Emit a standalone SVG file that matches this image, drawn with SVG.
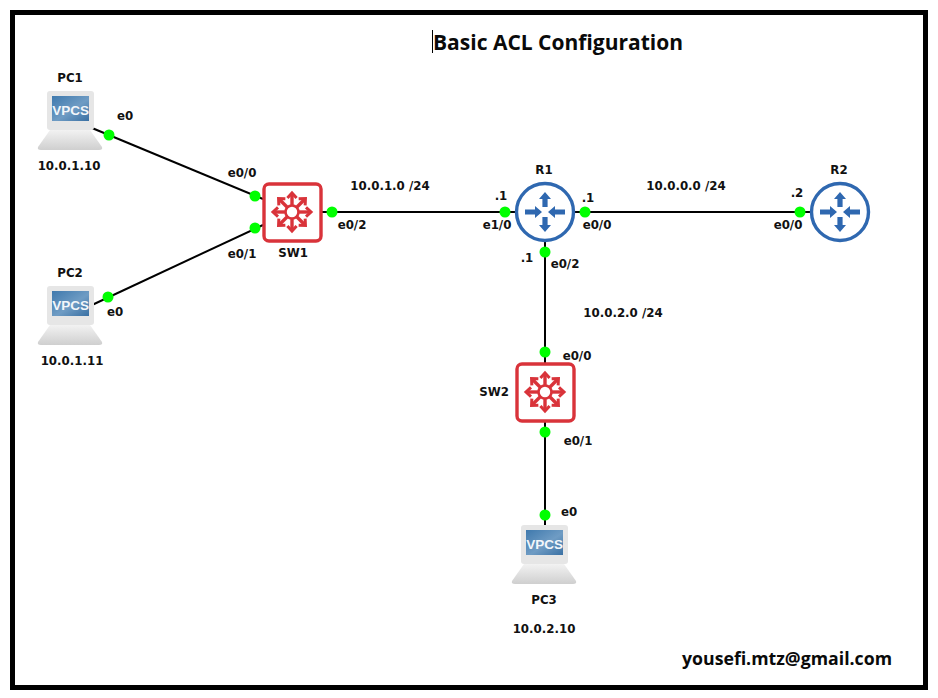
<svg xmlns="http://www.w3.org/2000/svg" xmlns:xlink="http://www.w3.org/1999/xlink" width="938" height="698" viewBox="0 0 938 698">
<style>
.l{font-family:"DejaVu Sans","Liberation Sans",sans-serif;font-weight:700;font-size:11.8px;fill:#111}
.t{font-family:"Open Sans","Noto Sans",sans-serif;font-weight:700;fill:#0a0a0a}
.c{stroke:#000;stroke-width:2;fill:none}
.d{fill:#0f0}
</style>
<defs>
<linearGradient id="scr" x1="0" y1="0" x2="1" y2="1"><stop offset="0" stop-color="#3f79ad"/><stop offset=".55" stop-color="#6f9cc4"/><stop offset="1" stop-color="#3a70a3"/></linearGradient>
<linearGradient id="bs" x1="0" y1="0" x2="0" y2="1"><stop offset="0" stop-color="#f2f2f2"/><stop offset="1" stop-color="#cfcfcf"/></linearGradient>
<g id="pc">
<path d="M-21 0H19L31 17Q32 20 28 20H-30Q-34 20 -33 17Z" fill="url(#bs)"/>
<rect x="-24" y="-39" width="47" height="39" rx="3" fill="#e6e6e6"/>
<rect x="-19" y="-34" width="37" height="25" fill="url(#scr)"/>
<text x="-0.500" y="-15.500" text-anchor="middle" font-family="'Liberation Sans',sans-serif" font-weight="700" font-size="13.500" fill="#f2f6fa">VPCS</text>
</g>
<g id="arr">
<path d="M0 -6V-18" stroke-width="3.400"/>
<path d="M-4.600 -14L0 -19L4.600 -14" stroke-width="3"/>
</g>
<g id="swi">
<rect x="-28" y="-28" width="57" height="57" rx="5" fill="#fff" stroke="#d9333a" stroke-width="3.400"/>
<g stroke="#d9333a" fill="none" stroke-width="2.600">
<circle r="6.500"/>
<use xlink:href="#arr" transform="rotate(0)"/>
<use xlink:href="#arr" transform="rotate(45)"/>
<use xlink:href="#arr" transform="rotate(90)"/>
<use xlink:href="#arr" transform="rotate(135)"/>
<use xlink:href="#arr" transform="rotate(180)"/>
<use xlink:href="#arr" transform="rotate(225)"/>
<use xlink:href="#arr" transform="rotate(270)"/>
<use xlink:href="#arr" transform="rotate(315)"/>
</g>
</g>
<g id="rtr">
<circle r="28.500" fill="#fff" stroke="#2f68b0" stroke-width="3.400"/>
<g fill="#2f68b0">
<path d="M-2.600 -5V-13H-6L0 -20L6 -13H2.600V-5Z"/>
<path d="M-2.600 5V13H-6L0 20L6 13H2.600V5Z"/>
<path d="M-20 -2.600H-10V-6L-3 0L-10 6V2.600H-20Z"/>
<path d="M20 -2.600H10V-6L3 0L10 6V2.600H20Z"/>
</g>
</g>
</defs>
<rect width="938" height="698" fill="#fff"/>
<rect x="12.500" y="12.500" width="913" height="675" fill="none" stroke="#000" stroke-width="5"/>
<g id="connectors">
<path class="c" d="M92 128L263 199"/>
<path class="c" d="M92 305L263 225"/>
<path class="c" d="M321 212H516"/>
<path class="c" d="M574 212H811"/>
<path class="c" d="M545 241V363"/>
<path class="c" d="M545 421V530"/>
<circle class="d" cx="109" cy="135" r="5.500"/>
<circle class="d" cx="255" cy="196" r="5.500"/>
<circle class="d" cx="108" cy="297" r="5.500"/>
<circle class="d" cx="255" cy="228" r="5.500"/>
<circle class="d" cx="332" cy="212" r="5.500"/>
<circle class="d" cx="505" cy="212" r="5.500"/>
<circle class="d" cx="585" cy="212" r="5.500"/>
<circle class="d" cx="800" cy="212" r="5.500"/>
<circle class="d" cx="545" cy="252" r="5.500"/>
<circle class="d" cx="545" cy="352" r="5.500"/>
<circle class="d" cx="545" cy="432" r="5.500"/>
<circle class="d" cx="545" cy="515" r="5.500"/>
</g>
<g id="PC1"><use xlink:href="#pc" transform="translate(71 130)"/><text class="l" x="70" y="82" text-anchor="middle">PC1</text><text class="l" x="69" y="170" text-anchor="middle">10.0.1.10</text><text class="l" x="125" y="120" text-anchor="middle">e0</text></g>
<g id="PC2"><use xlink:href="#pc" transform="translate(71 325)"/><text class="l" x="70" y="277" text-anchor="middle">PC2</text><text class="l" x="72" y="365" text-anchor="middle">10.0.1.11</text><text class="l" x="115" y="316" text-anchor="middle">e0</text></g>
<g id="PC3"><use xlink:href="#pc" transform="translate(545 564)"/><text class="l" x="544" y="604" text-anchor="middle">PC3</text><text class="l" x="544" y="633" text-anchor="middle">10.0.2.10</text><text class="l" x="569" y="516" text-anchor="middle">e0</text></g>
<g id="SW1"><use xlink:href="#swi" transform="translate(292 212)"/><text class="l" x="293" y="257" text-anchor="middle">SW1</text><text class="l" x="242" y="177" text-anchor="middle">e0/0</text><text class="l" x="242" y="258" text-anchor="middle">e0/1</text><text class="l" x="352" y="229" text-anchor="middle">e0/2</text></g>
<g id="R1"><use xlink:href="#rtr" transform="translate(545 212)"/><text class="l" x="544" y="174" text-anchor="middle">R1</text><text class="l" x="501" y="200" text-anchor="middle">.1</text><text class="l" x="588" y="202" text-anchor="middle">.1</text><text class="l" x="497" y="229" text-anchor="middle">e1/0</text><text class="l" x="597" y="229" text-anchor="middle">e0/0</text><text class="l" x="527" y="262" text-anchor="middle">.1</text><text class="l" x="565" y="268" text-anchor="middle">e0/2</text></g>
<g id="R2"><use xlink:href="#rtr" transform="translate(840 212)"/><text class="l" x="839" y="174" text-anchor="middle">R2</text><text class="l" x="797" y="197" text-anchor="middle">.2</text><text class="l" x="788" y="229" text-anchor="middle">e0/0</text></g>
<g id="SW2"><use xlink:href="#swi" transform="translate(545 392)"/><text class="l" x="494" y="396" text-anchor="middle">SW2</text><text class="l" x="577" y="360" text-anchor="middle">e0/0</text><text class="l" x="578" y="445" text-anchor="middle">e0/1</text></g>
<g id="labels">
<text class="l" x="390" y="190" text-anchor="middle">10.0.1.0 /24</text>
<text class="l" x="686" y="190" text-anchor="middle">10.0.0.0 /24</text>
<text class="l" x="623" y="317" text-anchor="middle">10.0.2.0 /24</text>
<text class="t" x="433" y="50" font-size="21">Basic ACL Configuration</text>
<path d="M432.500 30V53" stroke="#000" stroke-width="1"/>
<text class="t" x="682" y="665" font-size="17.700">yousefi.mtz@gmail.com</text>
</g>
</svg>
